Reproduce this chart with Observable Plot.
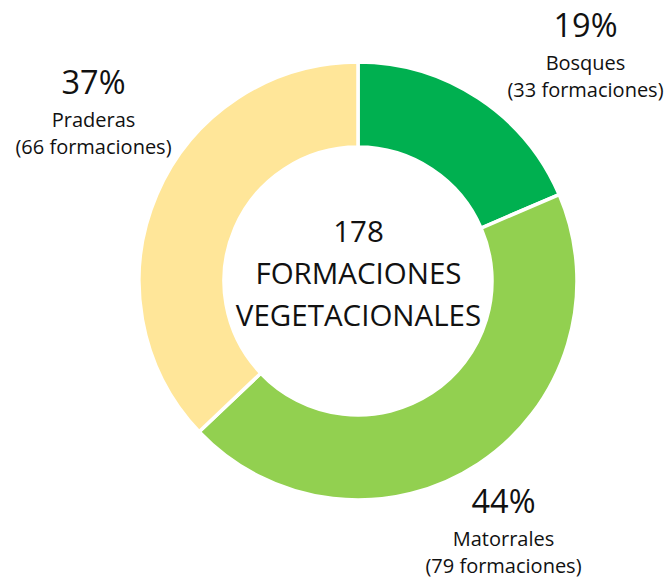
<!DOCTYPE html>
<html>
<head>
<meta charset="utf-8">
<script src="https://cdn.jsdelivr.net/npm/d3@7"></script>
<script src="https://cdn.jsdelivr.net/npm/@observablehq/plot@0.6"></script>
<style>
  html, body { margin: 0; padding: 0; background: #fff; }
  #chart svg { display: block; }
</style>
</head>
<body>
<div id="chart"></div>
<script>
// ---- data ----
const categories = ["Bosques", "Matorrales", "Praderas"];
const counts = [33, 79, 66];
const percentLabels = ["19%", "44%", "37%"];
const countLabels = ["(33 formaciones)", "(79 formaciones)", "(66 formaciones)"];
const colors = ["#00B050", "#92D050", "#FFE699"];
const centerLines = ["178", "FORMACIONES", "VEGETACIONALES"];

// ---- layout / style (pixels) ----
const W = 668, H = 577;
const cx = 358, cy = 281;          // centre of the donut
const R = 219, r = 134;            // outer / inner radius
// label block: horizontal centre and baseline of the percentage, relative to the donut centre (down = +)
const labelAnchors = [[227, -245], [145, 231], [-265, -188]];
const font = "'Open Sans', sans-serif";

const pie = d3.pie().sort(null).value(d => d.count)(
  categories.map((c, i) => ({name: c, count: counts[i], color: colors[i], pct: percentLabels[i], cnt: countLabels[i]}))
);

const labelRows = pie.map((p, i) => ({
  x: labelAnchors[i][0], y: -labelAnchors[i][1],
  pct: p.data.pct, name: p.data.name, cnt: p.data.cnt
}));

function donut(index, scales) {
  const x0 = scales.x(0), y0 = scales.y(0);
  const k = scales.x(1) - scales.x(0);
  const arc = d3.arc().innerRadius(r * k).outerRadius(R * k);
  const g = d3.create("svg:g").attr("transform", `translate(${x0},${y0})`);
  g.selectAll("path").data(pie).join("path")
    .attr("d", arc)
    .attr("fill", d => d.data.color)
    .attr("stroke", "#fff")
    .attr("stroke-width", 3.5)
    .attr("stroke-linejoin", "miter");
  return g.node();
}

const common = {x: "x", y: "y", fill: "#111", textAnchor: "middle", lineAnchor: "bottom"};

const chart = Plot.plot({
  width: W, height: H,
  margin: 0,
  x: {domain: [-cx, W - cx], axis: null},
  y: {domain: [-(H - cy), cy], axis: null},
  style: {fontFamily: font, background: "#fff"},
  marks: [
    donut,
    Plot.text(labelRows, {...common, text: "pct", fontSize: 32.5}),
    Plot.text(labelRows, {...common, text: "name", fontSize: 20, dy: 33}),
    Plot.text(labelRows, {...common, text: "cnt", fontSize: 20, dy: 60}),
    Plot.text([{x: 0, y: -44, t: centerLines.join("\n")}], {...common, text: "t", fontSize: 29.5, lineHeight: 42 / 29.5})
  ]
});
document.getElementById("chart").appendChild(chart);
</script>
</body>
</html>
